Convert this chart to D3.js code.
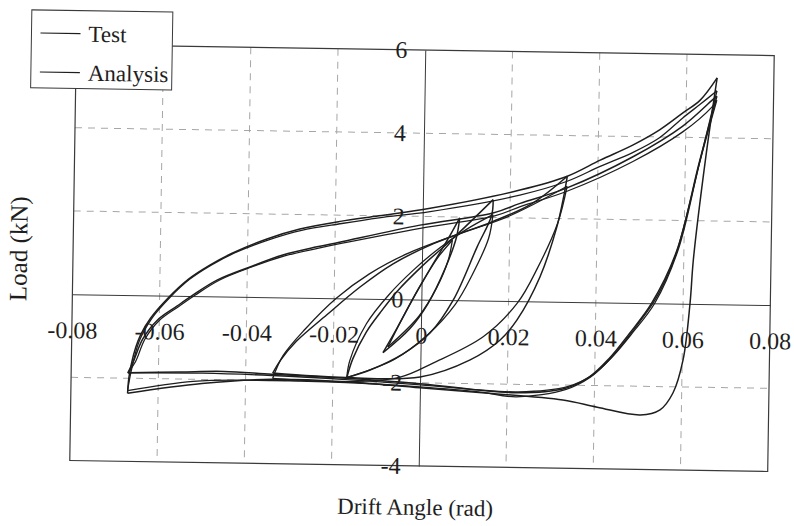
<!DOCTYPE html>
<html>
<head>
<meta charset="utf-8">
<script src="https://cdn.jsdelivr.net/npm/d3@7"></script>
<style>
  body { margin: 0; background: #fff; }
  svg { display: block; font-family: "Liberation Serif", "Times New Roman", serif; }
</style>
</head>
<body>
<svg id="chart" width="794" height="526"></svg>
<script>
// Axis ticks
const xTicks = [-0.08, -0.06, -0.04, -0.02, 0, 0.02, 0.04, 0.06, 0.08];
const yTicks = [-4, -2, 0, 2, 4, 6];
const seriesNames = ['Test', 'Analysis'];

// Test branches, [drift angle (rad), load (kN)]
const testLoop1Up = [[-0.0086, -1.29], [-0.0055, -0.7], [-0.0015, 0.1], [0.0025, 0.85], [0.0058, 1.45], [0.0085, 1.98]];
const testLoop1Down = [[0.0085, 1.98], [0.0078, 1.5], [0.0055, 0.8], [0.0015, -0.1], [-0.0025, -0.7], [-0.0086, -1.29]];
const testLoop2Up = [[-0.0168, -1.9], [-0.0155, -1.45], [-0.0125, -0.8], [-0.0094, -0.33], [-0.0055, 0.2], [0, 0.8], [0.0072, 1.5], [0.0161, 2.43]];
const testLoop2Down = [[0.0161, 2.43], [0.0158, 2.05], [0.0126, 1.29], [0.0073, 0.0], [0.0021, -0.8], [-0.004, -1.31], [-0.0115, -1.71], [-0.0168, -1.9]];
const testLoop3Up = [[-0.0338, -1.82], [-0.032, -1.5], [-0.0285, -1.05], [-0.0216, -0.4], [-0.0141, 0.28], [-0.0066, 0.85], [0.0026, 1.35], [0.016, 1.9], [0.025, 2.35], [0.033, 3.02]];
const testLoop3Down = [[0.033, 3.02], [0.0322, 2.5], [0.0308, 1.8], [0.0271, 0.59], [0.022, -0.45], [0.0182, -0.94], [0.0114, -1.43], [0.0, -1.86], [-0.017, -1.9], [-0.0338, -1.82]];
const testLoop4Up = [[-0.067, -2.36], [-0.0666, -1.87], [-0.0648, -1.1], [-0.062, -0.55], [-0.058, -0.05], [-0.0535, 0.4], [-0.0486, 0.75], [-0.0434, 1.05], [-0.0356, 1.4], [-0.0281, 1.65], [-0.0189, 1.85], [-0.01, 2.0], [0.0017, 2.2], [0.0222, 2.67], [0.033, 3.02], [0.0405, 3.42], [0.048, 3.8], [0.054, 4.17], [0.0592, 4.58], [0.0632, 4.9], [0.067, 5.44]];
const testLoop4Down = [[0.067, 5.44], [0.0646, 3.46], [0.0622, 1.06], [0.0616, 0.02], [0.0602, -1.35], [0.058, -2.15], [0.0551, -2.56], [0.0506, -2.69], [0.0407, -2.52], [0.0328, -2.36], [0.015, -2.22], [0.0, -2.12], [-0.017, -2.0], [-0.034, -1.97], [-0.05, -2.1], [-0.067, -2.36]];
const testLoop5Up = [[-0.067, -1.87], [-0.0658, -1.6], [-0.0637, -1.05], [-0.0605, -0.6], [-0.056, -0.25], [-0.0524, 0.02], [-0.0469, 0.39], [-0.0394, 0.72], [-0.0319, 1.02], [-0.0241, 1.23], [-0.019, 1.35], [-0.0006, 1.79], [0.0161, 2.11], [0.0223, 2.35], [0.033, 2.74], [0.0481, 3.52], [0.0593, 4.27], [0.066, 4.91], [0.067, 5.0]];
const testLoop5Down = [[0.067, 5.0], [0.0632, 3.4], [0.0583, 1.25], [0.0528, 0.0], [0.0477, -0.75], [0.0432, -1.35], [0.0387, -1.8], [0.0332, -2.08], [0.022, -2.2], [0.0, -2.02], [-0.017, -1.92], [-0.034, -1.85], [-0.045, -1.8], [-0.055, -1.83], [-0.067, -1.87]];

// Analysis branches
const analysisLoop1Up = [[-0.0075, -1.15], [-0.0045, -0.5], [-0.0005, 0.3], [0.0035, 1.0], [0.0069, 1.44]];
const analysisLoop1Down = [[0.0069, 1.44], [0.006, 0.95], [0.0035, 0.3], [-0.0005, -0.4], [-0.0075, -1.15]];
const analysisLoop2Up = [[-0.0168, -1.9], [-0.0162, -1.5], [-0.0125, -0.6], [-0.0075, 0.1], [-0.002, 0.7], [0.004, 1.25], [0.01, 1.7], [0.0161, 2.07]];
const analysisLoop2Down = [[0.0161, 2.07], [0.0152, 1.5], [0.0115, 0.6], [0.0078, -0.1], [0.0015, -0.85], [-0.006, -1.45], [-0.0168, -1.9]];
const analysisLoop3Up = [[-0.0338, -1.95], [-0.0315, -1.4], [-0.0265, -0.75], [-0.0195, 0.0], [-0.012, 0.6], [-0.003, 1.12], [0.008, 1.58], [0.02, 2.05], [0.033, 2.78]];
const analysisLoop3Down = [[0.033, 2.78], [0.031, 1.9], [0.0265, 0.8], [0.022, -0.05], [0.0143, -0.87], [0.0029, -1.52], [-0.0046, -1.87], [-0.017, -2.0], [-0.0338, -1.95]];
const analysisLoop4Up = [[-0.067, -2.3], [-0.0663, -1.85], [-0.0645, -1.1], [-0.0617, -0.55], [-0.0577, -0.05], [-0.0532, 0.4], [-0.0483, 0.75], [-0.043, 1.05], [-0.0352, 1.38], [-0.0277, 1.62], [-0.0185, 1.8], [-0.01, 1.95], [0.0017, 2.12], [0.0222, 2.55], [0.033, 2.9], [0.0405, 3.27], [0.048, 3.62], [0.054, 3.98], [0.0592, 4.46], [0.0632, 4.8], [0.067, 5.13]];
const analysisLoop4Down = [[0.067, 5.13], [0.0634, 3.46], [0.0585, 1.29], [0.0562, 0.64], [0.0531, 0.0], [0.048, -0.75], [0.0435, -1.35], [0.039, -1.8], [0.0335, -2.1], [0.0221, -2.3], [0.0138, -2.2], [0.0, -2.1], [-0.017, -2.02], [-0.034, -2.0], [-0.052, -2.05], [-0.067, -2.3]];
const analysisLoop5Up = [[-0.067, -1.87], [-0.0653, -1.6], [-0.0632, -1.05], [-0.06, -0.6], [-0.0555, -0.25], [-0.0519, 0.02], [-0.0464, 0.39], [-0.039, 0.72], [-0.0315, 1.0], [-0.0237, 1.2], [-0.0186, 1.32], [-0.0002, 1.72], [0.0165, 2.04], [0.0225, 2.28], [0.033, 2.66], [0.048, 3.4], [0.0593, 4.13], [0.066, 4.75], [0.067, 4.9]];
const analysisLoop5Down = [[0.067, 4.9], [0.0633, 3.4], [0.0587, 1.3], [0.0535, 0.0], [0.0485, -0.72], [0.044, -1.3], [0.0395, -1.75], [0.034, -2.03], [0.0225, -2.18], [0.0, -2.05], [-0.017, -1.95], [-0.034, -1.88], [-0.05, -1.85], [-0.067, -1.87]];

const testBranches = [testLoop1Up, testLoop1Down, testLoop2Up, testLoop2Down, testLoop3Up, testLoop3Down,
  testLoop4Up, testLoop4Down, testLoop5Up, testLoop5Down];
const analysisBranches = [analysisLoop1Up, analysisLoop1Down, analysisLoop2Up, analysisLoop2Down, analysisLoop3Up,
  analysisLoop3Down, analysisLoop4Up, analysisLoop4Down, analysisLoop5Up, analysisLoop5Down];

// Plot frame (the scanned original is tilted by about a degree)
const frame = { left: 73, right: 771, top: 50, bottom: 466 };
const ink = '#1e1e1e';

const svg = d3.select('#chart');
const g = svg.append('g').attr('transform', 'rotate(0.9, 420, 258)');

const x = d3.scaleLinear().domain([xTicks[0], xTicks[xTicks.length - 1]]).range([frame.left, frame.right]);
const y = d3.scaleLinear().domain([yTicks[0], yTicks[yTicks.length - 1]]).range([frame.bottom, frame.top]);

// Dashed grid
g.append('g').selectAll('line')
  .data(xTicks.slice(1, -1).filter(d => d !== 0))
  .join('line')
  .attr('x1', d => x(d)).attr('x2', d => x(d))
  .attr('y1', frame.top).attr('y2', frame.bottom)
  .attr('stroke', '#a6a6a6').attr('stroke-dasharray', '7,6');

g.append('g').selectAll('line')
  .data(yTicks.slice(1, -1).filter(d => d !== 0))
  .join('line')
  .attr('x1', frame.left).attr('x2', frame.right)
  .attr('y1', d => y(d)).attr('y2', d => y(d))
  .attr('stroke', '#a6a6a6').attr('stroke-dasharray', '7,6');

g.append('rect')
  .attr('x', frame.left).attr('y', frame.top)
  .attr('width', frame.right - frame.left).attr('height', frame.bottom - frame.top)
  .attr('fill', 'none').attr('stroke', '#3a3a3a').attr('stroke-width', 1.2);

// Axes cross at zero
const styleAxis = a => a
  .attr('font-family', '"Liberation Serif", serif')
  .attr('font-size', 24)
  .attr('color', ink)
  .call(s => s.select('.domain').attr('stroke', '#3a3a3a'));

g.append('g')
  .attr('transform', `translate(0,${y(0)})`)
  .call(d3.axisBottom(x).tickValues(xTicks).tickSize(0).tickSizeOuter(0).tickPadding(27).tickFormat(d => String(d)))
  .call(styleAxis);

g.append('g')
  .attr('transform', `translate(${x(0)},0)`)
  .call(d3.axisLeft(y).tickValues(yTicks).tickSize(0).tickSizeOuter(0).tickPadding(18).tickFormat(d => String(d)))
  .call(styleAxis);

// Hysteresis curves
const line = d3.line()
  .x(d => x(d[0]))
  .y(d => y(d[1]))
  .curve(d3.curveCatmullRom.alpha(0.5));

g.append('g').selectAll('path')
  .data(testBranches)
  .join('path')
  .attr('class', 'test')
  .attr('d', line)
  .attr('fill', 'none').attr('stroke', ink).attr('stroke-width', 1.5);

g.append('g').selectAll('path')
  .data(analysisBranches)
  .join('path')
  .attr('class', 'analysis')
  .attr('d', line)
  .attr('fill', 'none').attr('stroke', ink).attr('stroke-width', 1.3);

// Axis titles
g.append('text')
  .attr('x', 419).attr('y', 515)
  .attr('text-anchor', 'middle').attr('font-size', 23).attr('fill', ink)
  .text('Drift Angle (rad)');

g.append('text')
  .attr('transform', 'translate(27,255) rotate(-90)')
  .attr('text-anchor', 'middle').attr('font-size', 25).attr('fill', ink)
  .text('Load (kN)');

// Legend
const legend = g.append('g').attr('transform', 'translate(28,16)');
legend.append('rect')
  .attr('width', 141).attr('height', 78)
  .attr('fill', '#fff').attr('stroke', '#3a3a3a');

const item = legend.selectAll('g.item')
  .data(seriesNames)
  .join('g')
  .attr('class', 'item')
  .attr('transform', (d, i) => `translate(0,${23 + i * 39})`);

item.append('line')
  .attr('x1', 9).attr('x2', 49)
  .attr('stroke', ink).attr('stroke-width', 1.2);

item.append('text')
  .attr('x', 57).attr('y', 8)
  .attr('font-size', 23).attr('fill', ink)
  .text(d => d);
</script>
</body>
</html>
